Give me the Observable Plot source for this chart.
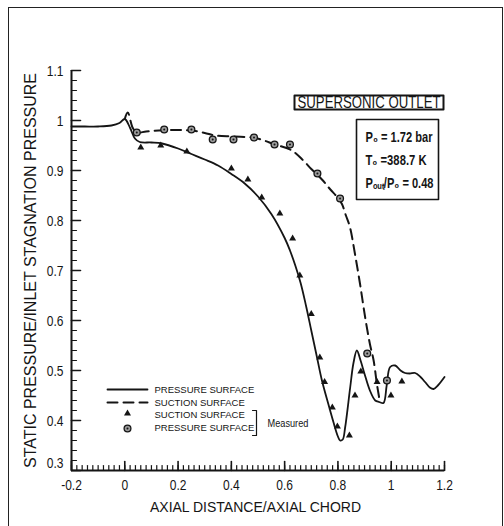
<!DOCTYPE html>
<html><head><meta charset="utf-8">
<script src="https://cdn.jsdelivr.net/npm/d3@7"></script>
<script src="https://cdn.jsdelivr.net/npm/@observablehq/plot@0.6"></script>
<style>
html,body{margin:0;padding:0;background:#fff;}
#wrap{position:relative;width:504px;height:526px;overflow:hidden;}
#frame{position:absolute;left:8px;top:7px;width:495px;height:540px;border:1.5px solid #222;box-sizing:border-box;pointer-events:none;}
</style></head>
<body><div id="wrap"><div id="frame"></div></div>
<script>
// ---- data ----
const cfdPressureX = [-0.2,-0.15,-0.1,-0.05,-0.02,0,0.02,0.038,0.056,0.1,0.14,0.2,0.25,0.3,0.35,0.4,0.45,0.5,0.55,0.6,0.62,0.64,0.66,0.68,0.70,0.72,0.74,0.764,0.783,0.80,0.808,0.818,0.827,0.846,0.858,0.871,0.885,0.9,0.92,0.94,0.955,0.971,0.983,0.996,1.015,1.035,1.052,1.07,1.09,1.11,1.127,1.145,1.159,1.175,1.2];
const cfdPressureY = [0.988,0.988,0.988,0.99,0.995,1.003,0.985,0.964,0.957,0.956,0.954,0.944,0.933,0.922,0.91,0.893,0.874,0.848,0.813,0.765,0.74,0.71,0.675,0.63,0.58,0.53,0.48,0.433,0.397,0.368,0.36,0.362,0.386,0.466,0.514,0.54,0.52,0.493,0.46,0.44,0.437,0.435,0.47,0.507,0.51,0.5,0.495,0.494,0.495,0.487,0.477,0.466,0.463,0.47,0.487];
const cfdSuctionX = [0,0.011,0.03,0.045,0.08,0.127,0.2,0.25,0.3,0.34,0.41,0.49,0.564,0.627,0.67,0.70,0.74,0.77,0.80,0.815,0.83,0.845,0.864,0.883,0.902,0.92,0.934,0.946,0.955];
const cfdSuctionY = [1.003,1.016,0.985,0.976,0.978,0.98,0.981,0.98,0.975,0.97,0.968,0.965,0.952,0.94,0.92,0.903,0.882,0.863,0.845,0.833,0.81,0.787,0.733,0.673,0.607,0.553,0.52,0.474,0.445];
const measSuctionX = [0.06,0.135,0.233,0.40,0.462,0.514,0.582,0.630,0.657,0.70,0.732,0.75,0.779,0.798,0.843,0.864,0.886,0.947,0.999,1.04];
const measSuctionY = [0.946,0.95,0.938,0.904,0.882,0.846,0.814,0.764,0.69,0.613,0.526,0.477,0.426,0.388,0.37,0.45,0.498,0.477,0.45,0.478];
const measPressureX = [0.045,0.148,0.25,0.33,0.408,0.485,0.562,0.62,0.723,0.808,0.91,0.984];
const measPressureY = [0.976,0.982,0.982,0.962,0.962,0.966,0.952,0.952,0.894,0.844,0.534,0.48];

const xTickLabels = [-0.2,0,0.2,0.4,0.6,0.8,1,1.2];
const yTickLabels = [0.4,0.5,0.6,0.7,0.8,0.9,1,1.1];
const yCornerLabel = [0.3];
const xMinorTicks = d3.range(-10,61).map(i=>i/50);
const yMinorTicks = d3.range(15,56).map(i=>i/50);
const xMajorTicks = xTickLabels;
const yMajorTicks = [0.3,...yTickLabels];

const xTitle = "AXIAL DISTANCE/AXIAL CHORD";
const yTitle = "STATIC PRESSURE/INLET STAGNATION PRESSURE";
const legendLabels = ["PRESSURE SURFACE","SUCTION SURFACE","SUCTION SURFACE","PRESSURE SURFACE"];
const measuredLabel = "Measured";
const boxTitle = "SUPERSONIC OUTLET";
const conditions = ["P₀ = 1.72 bar","T₀ =388.7 K","Pₒᵤₜ/P₀ = 0.48"];

// ---- build ----
const solid = cfdPressureX.map((x,i)=>({x,y:cfdPressureY[i]}));
const dashed = cfdSuctionX.map((x,i)=>({x,y:cfdSuctionY[i]}));
const tri = measSuctionX.map((x,i)=>({x,y:measSuctionY[i]}));
const cir = measPressureX.map((x,i)=>({x,y:measPressureY[i]}));

const ink = "#151515";
const sans = "'Liberation Sans', Arial, Helvetica, sans-serif";
const narrow = "'Liberation Sans Narrow', 'Liberation Sans', Arial, sans-serif";
const tickShape = {draw(ctx,l){ctx.moveTo(0,0);ctx.lineTo(0,-l);}};
const hline = {draw(ctx,l){ctx.moveTo(0,0);ctx.lineTo(l,0);}};
const bracket = {draw(ctx,l){ctx.moveTo(-4,0);ctx.lineTo(0,0);ctx.lineTo(0,l);ctx.lineTo(-4,l);}};
const boxShape = (w,h)=>({draw(ctx){ctx.rect(0,0,w,h);}});
const one = [0];
const TL = "top-left";
const legendDy = [319,332,344,357];
const condDy = [67,90,113];
// widths (px) the condensed texts occupy in the reference
const fitWidths = new Map([[boxTitle,143],[conditions[0],67],[conditions[1],61],[conditions[2],68]]);

const chart = Plot.plot({
  width: 504, height: 526,
  marginLeft: 71, marginRight: 60, marginTop: 70, marginBottom: 56,
  x: {domain: [-0.2, 1.2], axis: null},
  y: {domain: [0.3, 1.1], axis: null},
  style: {fontFamily: sans, color: ink, background: "transparent", overflow: "visible"},
  marks: [
    // axes lines
    Plot.ruleX([-0.2], {y1: 0.3, y2: 1.1, stroke: ink, strokeWidth: 2}),
    Plot.ruleY([0.3], {x1: -0.2, x2: 1.2, stroke: ink, strokeWidth: 2}),
    // inward ticks
    Plot.vector(yMinorTicks, {x: () => -0.2, y: d => d, length: 5, rotate: 90, anchor: "start", shape: tickShape, stroke: ink, strokeWidth: 1.2}),
    Plot.vector(yMajorTicks, {x: () => -0.2, y: d => d, length: 9, rotate: 90, anchor: "start", shape: tickShape, stroke: ink, strokeWidth: 1.6}),
    Plot.vector(xMinorTicks, {x: d => d, y: () => 0.3, length: 5, rotate: 0, anchor: "start", shape: tickShape, stroke: ink, strokeWidth: 1.2}),
    Plot.vector(xMajorTicks, {x: d => d, y: () => 0.3, length: 9, rotate: 0, anchor: "start", shape: tickShape, stroke: ink, strokeWidth: 1.6}),
    // tick labels
    Plot.text(yTickLabels, {x: () => -0.2, y: d => d, text: d => String(+d.toFixed(1)), dx: -8, dy: 1, textAnchor: "end", fontSize: 15, fontFamily: narrow, fill: ink}),
    Plot.text(yCornerLabel, {x: () => -0.2, y: d => d, text: d => String(d), dx: -8, dy: -7, textAnchor: "end", fontSize: 15, fontFamily: narrow, fill: ink}),
    Plot.text(xTickLabels, {x: d => d, y: () => 0.3, text: d => String(+d.toFixed(1)), dy: 15, fontSize: 15, fontFamily: narrow, fill: ink}),
    // titles
    Plot.text([yTitle], {frameAnchor: "left", dx: -41, rotate: -90, textAnchor: "middle", lineAnchor: "middle", fontSize: 16, fill: ink}),
    Plot.text([xTitle], {frameAnchor: "bottom", dx: -2.5, dy: 37, lineAnchor: "middle", fontSize: 14, fill: ink}),
    // data
    Plot.line(dashed, {x: "x", y: "y", stroke: ink, strokeWidth: 2, strokeDasharray: "10,6", curve: "catmull-rom"}),
    Plot.line(solid, {x: "x", y: "y", stroke: ink, strokeWidth: 1.8, curve: "catmull-rom"}),
    Plot.dot(tri, {x: "x", y: "y", symbol: "triangle", r: 2.6, fill: ink, stroke: "none"}),
    Plot.dot(cir, {x: "x", y: "y", r: 3.4, fill: "#9a9a9a", stroke: ink, strokeWidth: 1.3}),
    Plot.dot(cir, {x: "x", y: "y", r: 1, fill: ink}),
    // legend
    Plot.vector(one, {frameAnchor: TL, dx: 36, dy: legendDy[0], length: 40, rotate: 0, anchor: "start", shape: hline, stroke: ink, strokeWidth: 1.8}),
    Plot.vector(one, {frameAnchor: TL, dx: 36, dy: legendDy[1], length: 40, rotate: 0, anchor: "start", shape: hline, stroke: ink, strokeWidth: 2, strokeDasharray: "10,6"}),
    Plot.dot(one, {frameAnchor: TL, dx: 56, dy: legendDy[2] - 1, symbol: "triangle", r: 2.6, fill: ink}),
    Plot.dot(one, {frameAnchor: TL, dx: 56, dy: legendDy[3] + 1, r: 3.4, fill: "#9a9a9a", stroke: ink, strokeWidth: 1.3}),
    Plot.dot(one, {frameAnchor: TL, dx: 56, dy: legendDy[3] + 1, r: 1, fill: ink}),
    ...legendLabels.map((t, i) => Plot.text([t], {frameAnchor: TL, dx: 83, dy: legendDy[i], textAnchor: "start", lineAnchor: "middle", fontSize: 9.5, fill: ink})),
    Plot.vector(one, {frameAnchor: TL, dx: 185, dy: 340, length: 25, rotate: 0, anchor: "start", shape: bracket, stroke: ink, strokeWidth: 1.2}),
    Plot.text([measuredLabel], {frameAnchor: TL, dx: 196, dy: 353, textAnchor: "start", lineAnchor: "middle", fontSize: 11.5, fontFamily: narrow, fill: ink}),
    // annotation boxes
    Plot.vector(one, {frameAnchor: TL, dx: 223, dy: 25, length: 1, rotate: 0, anchor: "start", shape: boxShape(149, 14), stroke: ink, strokeWidth: 2, fill: "none"}),
    Plot.text([boxTitle], {frameAnchor: TL, dx: 297.5, dy: 32.5, textAnchor: "middle", lineAnchor: "middle", fontSize: 17, fontFamily: narrow, fill: ink}),
    Plot.vector(one, {frameAnchor: TL, dx: 285, dy: 49, length: 1, rotate: 0, anchor: "start", shape: boxShape(82, 80), stroke: ink, strokeWidth: 1.6, fill: "none"}),
    ...conditions.map((t, i) => Plot.text([t], {frameAnchor: TL, dx: 294, dy: condDy[i], textAnchor: "start", lineAnchor: "middle", fontSize: 14, fontWeight: "bold", fontFamily: narrow, fill: ink}))
  ]
});
document.getElementById("wrap").prepend(chart);

// condensed look for the "narrow" texts (Narrow face is not installed): squeeze glyphs
d3.select(chart).selectAll('g[font-family*="Narrow"] text').each(function() {
  const L = this.getComputedTextLength();
  const target = fitWidths.has(this.textContent) ? fitWidths.get(this.textContent) : L * 0.8;
  this.setAttribute("textLength", target.toFixed(1));
  this.setAttribute("lengthAdjust", "spacingAndGlyphs");
});
</script>
</body></html>
